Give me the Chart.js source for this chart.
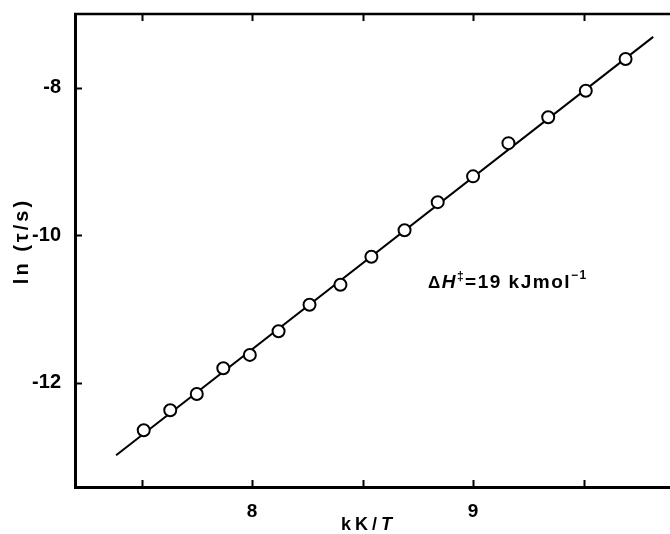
<!DOCTYPE html>
<html>
<head>
<meta charset="utf-8">
<script src="https://cdn.jsdelivr.net/npm/chart.js@4.4.1/dist/chart.umd.min.js"></script>
<style>
  html, body { margin: 0; padding: 0; background: #fff; overflow: hidden; }
  #c { display: block; }
</style>
</head>
<body>
<canvas id="c" width="670" height="534"></canvas>
<script>
// Relaxation time vs reciprocal temperature
const invT = [7.51, 7.63, 7.75, 7.87, 7.99, 8.12, 8.26, 8.40, 8.54, 8.69, 8.84, 9.00, 9.16, 9.34, 9.51, 9.69];
const lnTau = [-12.64, -12.37, -12.15, -11.80, -11.62, -11.30, -10.94, -10.67, -10.29, -9.93, -9.55, -9.20, -8.75, -8.40, -8.04, -7.61];

// Least-squares line drawn through the data (end points)
const fitX = [7.385, 9.815];
const fitY = [-12.98, -7.31];

const xTicks = [7.5, 8, 8.5, 9, 9.5];
const xLabels = [8, 9];
const yTicks = [-12, -10, -8];

const xRange = [7.199, 9.891];
const yRange = [-13.41, -7.0];

const noteAt = [8.796, -10.645];

const FONT = '"Liberation Sans", Arial, sans-serif';

const frame = {
  id: 'frame',
  afterDraw(chart) {
    const { ctx, chartArea: a, scales: { x, y } } = chart;
    ctx.save();
    ctx.strokeStyle = '#000';
    ctx.lineCap = 'butt';
    // top edge of the box
    ctx.lineWidth = 2.5;
    ctx.beginPath();
    ctx.moveTo(a.left - 1, a.top);
    ctx.lineTo(a.right, a.top);
    ctx.stroke();
    // inward ticks
    ctx.lineWidth = 2;
    ctx.beginPath();
    xTicks.forEach(v => {
      const px = Math.round(x.getPixelForValue(v)) + 0.5;
      ctx.moveTo(px, a.bottom); ctx.lineTo(px, a.bottom - 7);
      ctx.moveTo(px, a.top); ctx.lineTo(px, a.top + 7);
    });
    yTicks.forEach(v => {
      const py = Math.round(y.getPixelForValue(v)) + 0.5;
      ctx.moveTo(a.left, py); ctx.lineTo(a.left + 7, py);
    });
    ctx.stroke();

    // axis titles
    ctx.fillStyle = '#000';
    ctx.textBaseline = 'middle';
    ctx.letterSpacing = '4px';
    const cx = x.getPixelForValue(8.5) + 6;
    const parts = [['kK/', 'bold 18px ' + FONT], ['T', 'italic bold 18px ' + FONT]];
    let w = 0;
    parts.forEach(p => { ctx.font = p[1]; w += ctx.measureText(p[0]).width; });
    let sx = cx - w / 2;
    ctx.textAlign = 'left';
    parts.forEach(p => { ctx.font = p[1]; ctx.fillText(p[0], sx, 525); sx += ctx.measureText(p[0]).width; });

    ctx.save();
    ctx.translate(22, 241);
    ctx.rotate(-Math.PI / 2);
    ctx.textAlign = 'center';
    ctx.letterSpacing = '3px';
    ctx.font = 'bold 20px ' + FONT;
    ctx.fillText('ln (τ/s)', 0, 0);
    ctx.restore();

    // activation enthalpy note
    ctx.letterSpacing = '1.5px';
    let nx = x.getPixelForValue(noteAt[0]);
    const ny = y.getPixelForValue(noteAt[1]);
    const note = [
      ['Δ', 'bold 17px ' + FONT, 0],
      ['H', 'italic bold 19px ' + FONT, 0],
      ['‡', 'bold 12px ' + FONT, -6],
      ['=19 kJmol', 'bold 19px ' + FONT, 0],
      ['−1', 'bold 12px ' + FONT, -7]
    ];
    ctx.textAlign = 'left';
    note.forEach(p => {
      ctx.font = p[1];
      ctx.fillText(p[0], nx, ny + p[2]);
      nx += ctx.measureText(p[0]).width;
    });
    ctx.restore();
  }
};

new Chart(document.getElementById('c'), {
  type: 'scatter',
  data: {
    datasets: [
      {
        data: invT.map((v, i) => ({ x: v, y: lnTau[i] })),
        pointRadius: 6,
        pointBorderWidth: 2,
        pointBorderColor: '#000',
        pointBackgroundColor: '#fff',
        showLine: false,
        order: 0
      },
      {
        data: fitX.map((v, i) => ({ x: v, y: fitY[i] })),
        showLine: true,
        borderColor: '#000',
        borderWidth: 2,
        pointRadius: 0,
        order: 1
      }
    ]
  },
  options: {
    responsive: false,
    animation: false,
    devicePixelRatio: 1,
    layout: { autoPadding: false, padding: { top: 14, right: 0, left: 0, bottom: 0 } },
    plugins: { legend: { display: false }, tooltip: { enabled: false } },
    scales: {
      x: {
        type: 'linear',
        min: xRange[0],
        max: xRange[1],
        afterBuildTicks: s => { s.ticks = xLabels.map(v => ({ value: v })); },
        afterFit: s => { s.height = 47; s.paddingLeft = 0; s.paddingRight = 0; },
        grid: { display: false },
        border: { display: true, color: '#000', width: 3 },
        ticks: {
          color: '#000',
          padding: 5,
          maxRotation: 0,
          font: { family: FONT, size: 19, weight: 'bold' },
          callback: v => String(v)
        }
      },
      y: {
        type: 'linear',
        min: yRange[0],
        max: yRange[1],
        afterBuildTicks: s => { s.ticks = yTicks.map(v => ({ value: v })); },
        afterFit: s => { s.width = 75; s.paddingTop = 0; s.paddingBottom = 0; },
        grid: { display: false },
        border: { display: true, color: '#000', width: 3 },
        ticks: {
          color: '#000',
          padding: 6,
          font: { family: FONT, size: 20, weight: 'bold' },
          callback: v => String(v)
        }
      }
    }
  },
  plugins: [frame]
});
</script>
</body>
</html>
